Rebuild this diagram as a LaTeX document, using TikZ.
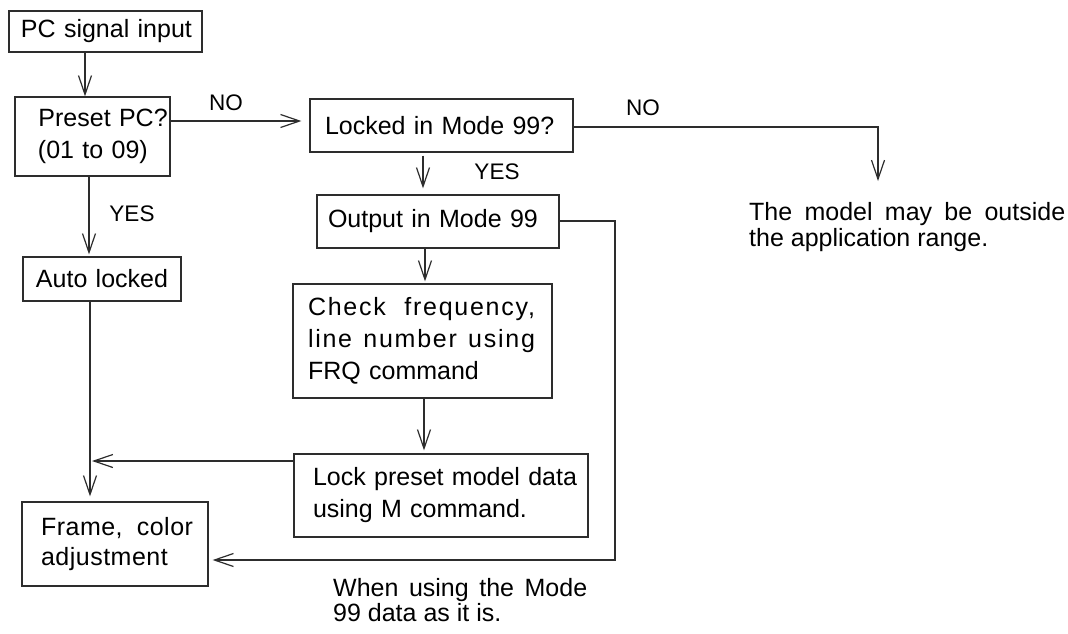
\documentclass[tikz,border=0pt]{standalone}
\usepackage{fontspec}
\setmainfont{Liberation Sans}
\usetikzlibrary{arrows.meta}
\definecolor{lc}{RGB}{45,45,45}
\begin{document}
\begin{tikzpicture}[x=1pt,y=-1pt,
  box/.style={draw=lc, line width=1.2pt, inner sep=0pt, text=black, align=left,
              font=\fontsize{25}{32}\selectfont},
  arr/.style={draw=lc, line width=1.2pt, -{Straight Barb[length=19pt,width=13pt,line width=1.2pt]}},
  lbl/.style={inner sep=0pt, text=black, font=\fontsize{22.5}{28}\selectfont},
  note/.style={inner sep=0pt, text=black, align=left, anchor=west}]
\useasboundingbox (0,0) rectangle (1068,633);

% boxes
\node[box, minimum width=193pt, minimum height=41pt, text width=193pt] (pc) at (105.5,31.5)
  {\hspace*{12pt}PC signal input};
\node[box, minimum width=155pt, minimum height=79pt, text width=155pt] (preset) at (92.5,136.5)
  {\hspace*{23.5pt}Preset PC?\\\hspace*{23pt}(01 to 09)};
\node[box, minimum width=158pt, minimum height=44pt, text width=158pt] (auto) at (102,279)
  {\hspace*{13pt}Auto locked};
\node[box, minimum width=263pt, minimum height=53pt, text width=263pt] (locked) at (441.5,125.5)
  {\hspace*{15pt}Locked in Mode 99?};
\node[box, minimum width=242pt, minimum height=53pt, text width=242pt] (output) at (438,221.5)
  {\hspace*{11pt}Output in Mode 99};
\node[box, minimum width=259pt, minimum height=114pt, text width=259pt] (check) at (422.5,341)
  {\hspace*{15pt}{\addfontfeature{LetterSpace=7}\hbox to 227pt{Check\hfill frequency,}}\\
   \hspace*{15pt}{\addfontfeature{LetterSpace=7}\hbox to 227pt{line\hfill number\hfill using}}\\
   \hspace*{15pt}FRQ command};
\node[box, minimum width=294pt, minimum height=83pt, text width=294pt] (lock) at (441,495.5)
  {\hspace*{19pt}Lock preset model data\\\hspace*{19pt}using M command.};
\node[box, minimum width=186pt, minimum height=84pt, text width=186pt,
      font=\fontsize{25}{30}\selectfont\addfontfeature{LetterSpace=2}] (frame) at (115,544)
  {\hspace*{19pt}\hbox to 152pt{Frame,\hfill color}\\\hspace*{19pt}adjustment};

% notes
\node[note, font=\fontsize{25}{26}\selectfont] (model) at (749,227)
  {\makebox[316pt][s]{The model may be outside}\\the application range.};
\node[note, font=\fontsize{25}{24.5}\selectfont] (when) at (333,600)
  {\makebox[254pt][s]{When using the Mode}\\99 data as it is.};

% labels
\node[lbl] (no1) at (226,103) {NO};
\node[lbl] (no2) at (643,108) {NO};
\node[lbl] (yes1) at (132,214) {YES};
\node[lbl] (yes2) at (497,172) {YES};

% connectors
\coordinate (nores) at (878,181);
\coordinate (rc) at (615,221);
\coordinate (j) at (92,461);

\draw[arr] ([xshift=-20.5pt]pc.south) -- ([xshift=-7.5pt]preset.north);
\draw[arr] ([yshift=15.5pt]preset.east) -- ([xshift=-8pt,yshift=4.5pt]locked.west);
\draw[arr] ([xshift=-3.5pt]preset.south) -- ([xshift=-13pt,yshift=2pt]auto.north);
\draw[arr] ([xshift=-12pt]auto.south) -- ([xshift=-25pt,yshift=5pt]frame.north);
\draw[arr] ([xshift=-18.5pt,yshift=-3pt]locked.south) -- ([xshift=-15pt,yshift=6pt]output.north);
\draw[arr] ([yshift=-1.5pt]locked.east) -| (nores);
\draw[arr] ([xshift=-13pt]output.south) -- ([xshift=2.5pt,yshift=2pt]check.north);
\draw[arr] ([yshift=0.5pt]output.east) -- (rc) |- ([xshift=4pt,yshift=-16pt]frame.east);
\draw[arr] ([xshift=1.5pt]check.south) -- ([xshift=-17pt,yshift=3pt]lock.north);
\draw[arr] ([yshift=34.5pt]lock.west) -- (j);
\end{tikzpicture}
\end{document}
